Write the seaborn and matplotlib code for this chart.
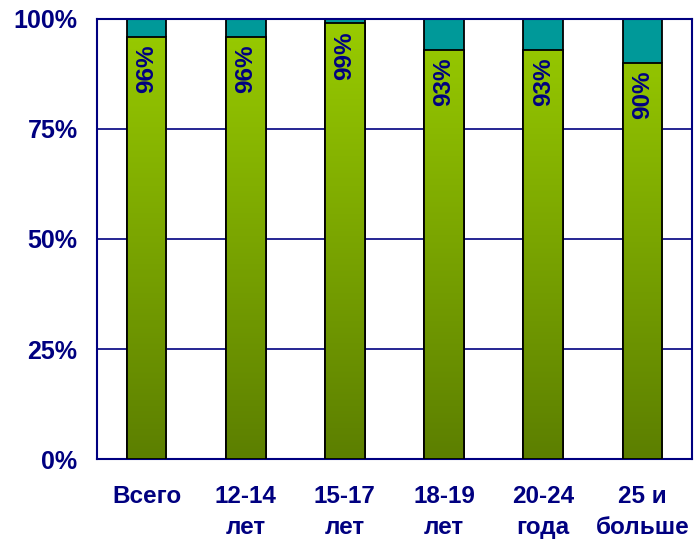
import matplotlib
matplotlib.use('Agg')
import matplotlib.pyplot as plt
import matplotlib.colors as mcolors
import numpy as np
import pandas as pd
import seaborn as sns

# data
categories = ['Всего', '12-14\nлет', '15-17\nлет', '18-19\nлет', '20-24\nгода', '25 и\nбольше']
share_yes = [96, 96, 99, 93, 93, 90]
share_total = [100, 100, 100, 100, 100, 100]

NAVY = '#000080'
TEAL = '#009999'
green_cmap = mcolors.LinearSegmentedColormap.from_list('grn', ['#5c7f00', '#99cc00'])

sns.set_style('white')
plt.rcParams['font.family'] = ['Liberation Sans', 'DejaVu Sans']

df = pd.DataFrame({'cat': categories, 'yes': share_yes, 'total': share_total})

fig = plt.figure(figsize=(6.95, 5.42), dpi=100)
ax = fig.add_axes([0.1396, 0.1531, 0.8561, 0.8119])

sns.barplot(data=df, x='cat', y='total', color=TEAL, width=0.4, edgecolor='black',
            linewidth=1.3, saturation=1, ax=ax, zorder=2)
n_top = len(ax.patches)
sns.barplot(data=df, x='cat', y='yes', color='#99cc00', width=0.4, edgecolor='black',
            linewidth=1.3, saturation=1, ax=ax, zorder=3)

# gradient fill for the green part
grad = np.linspace(0, 1, 256).reshape(-1, 1)
for p in ax.patches[n_top:]:
    x0, y0 = p.get_x(), p.get_y()
    w, h = p.get_width(), p.get_height()
    im = ax.imshow(grad * h / 100, extent=(x0, x0 + w, 0, h), origin='lower',
                   cmap=green_cmap, vmin=0, vmax=1, aspect='auto', zorder=2.9)
    im.set_clip_path(p)
    p.set_facecolor('none')

ax.set_xlim(-0.5, len(categories) - 0.5)
ax.set_ylim(0, 100)

for i, v in enumerate(share_yes):
    ax.text(i, v - 1.8, f'{v}%', rotation=90, ha='center', va='top',
            fontsize=17.5, fontweight='bold', color=NAVY, zorder=5)

ax.set_yticks([0, 25, 50, 75, 100])
ax.set_yticklabels(['0%', '25%', '50%', '75%', '100%'])
ax.yaxis.grid(True, color=NAVY, linewidth=1.2)
ax.set_axisbelow(True)
ax.set_xlabel('')
ax.set_ylabel('')
ax.tick_params(axis='y', length=0, pad=14, labelsize=18, labelcolor=NAVY)
ax.tick_params(axis='x', length=0, pad=19, labelsize=17.5, labelcolor=NAVY)
for lbl in ax.get_xticklabels() + ax.get_yticklabels():
    lbl.set_fontweight('bold')
for lbl in ax.get_xticklabels():
    lbl.set_linespacing(1.4)
    lbl.set_verticalalignment('top')
for s in ax.spines.values():
    s.set_color(NAVY)
    s.set_linewidth(1.5)

fig.savefig('out.png', dpi=100)
